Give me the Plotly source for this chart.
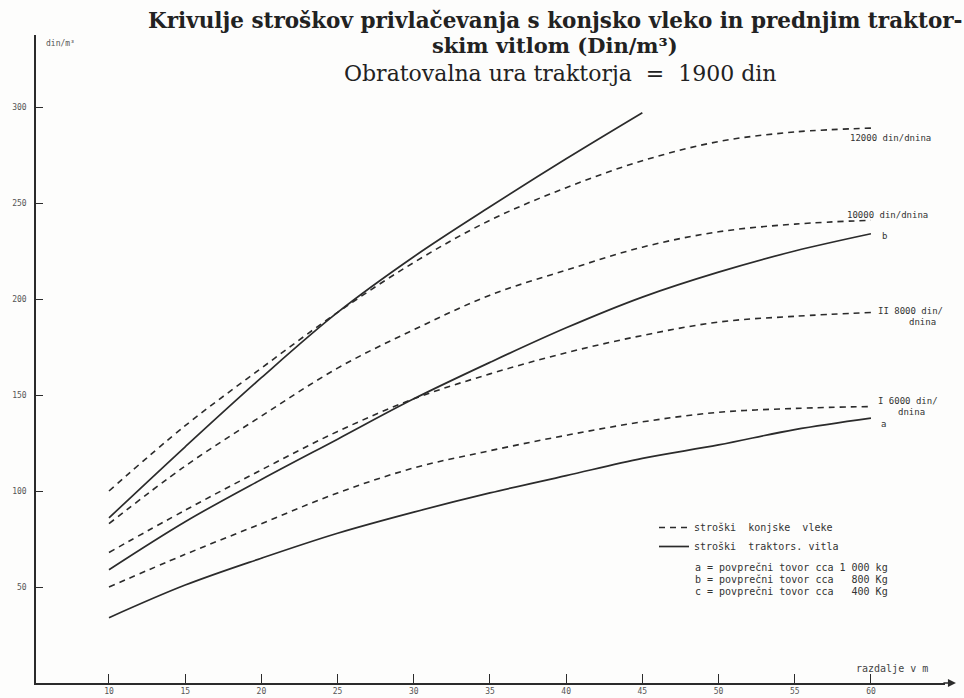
import plotly.graph_objects as go

# Skidding distance (m)
distance = [10, 15, 20, 25, 30, 35, 40, 45, 50, 55, 60]
distance_c = [10, 15, 20, 25, 30, 35, 40, 45]

# Horse skidding costs (din/m3) for different daily wages
horse_12000 = [100, 134, 164, 193, 219, 241, 258, 272, 282, 287, 289]
horse_10000 = [83, 113, 139, 164, 184, 202, 215, 227, 235, 239, 241]
horse_8000 = [68, 90, 111, 131, 148, 161, 172, 181, 188, 191, 193]
horse_6000 = [50, 67, 83, 99, 112, 121, 129, 136, 141, 143, 144]

# Tractor winch costs (din/m3) for average loads a, b, c
winch_a = [34, 51, 65, 78, 89, 99, 108, 117, 124, 132, 138]
winch_b = [59, 84, 106, 127, 148, 167, 185, 201, 214, 225, 234]
winch_c = [86, 123, 159, 193, 222, 248, 273, 297]

x_ticks = [10, 15, 20, 25, 30, 35, 40, 45, 50, 55, 60]
y_ticks = [50, 100, 150, 200, 250, 300]

INK = "#2b2b2b"
HAND = "DejaVu Sans Mono"

# plot-area geometry in pixels (used for placing free text)
L, R, T, B = 36, 945, 35, 683


def px(xp):
    return (xp - L) / (R - L)


def py(yp):
    return (B - yp) / (B - T)


fig = go.Figure()

horse = [horse_12000, horse_10000, horse_8000, horse_6000]
for i, ys in enumerate(horse):
    fig.add_trace(go.Scatter(
        x=distance, y=ys, mode="lines",
        line=dict(color=INK, width=1.6, dash="6px,5px", shape="spline"),
        name="stroški  konjske  vleke", showlegend=(i == 0),
        hoverinfo="skip"))

winch = [(distance_c, winch_c), (distance, winch_b), (distance, winch_a)]
for i, (xs, ys) in enumerate(winch):
    fig.add_trace(go.Scatter(
        x=xs, y=ys, mode="lines",
        line=dict(color=INK, width=1.7, shape="spline"),
        name="stroški  traktors. vitla", showlegend=(i == 0),
        hoverinfo="skip"))

ann = []

# titles
ann.append(dict(x=px(555), y=py(21), xref="paper", yref="paper",
                text="<b>Krivulje stroškov privlačevanja s konjsko vleko in prednjim traktor-</b>",
                showarrow=False, font=dict(family="DejaVu Serif", size=21.5, color="#222"),
                xanchor="center", yanchor="middle"))
ann.append(dict(x=px(555), y=py(46), xref="paper", yref="paper",
                text="<b>skim vitlom (Din/m³)</b>",
                showarrow=False, font=dict(family="DejaVu Serif", size=21, color="#222"),
                xanchor="center", yanchor="middle"))
ann.append(dict(x=px(560), y=py(73), xref="paper", yref="paper",
                text="Obratovalna ura traktorja  =  1900 din",
                showarrow=False, font=dict(family="DejaVu Serif", size=22, color="#222"),
                xanchor="center", yanchor="middle"))

# axis captions
ann.append(dict(x=px(44), y=py(43), xref="paper", yref="paper",
                text="din/m³", showarrow=False,
                font=dict(family=HAND, size=8, color="#555"),
                xanchor="left", yanchor="middle"))
ann.append(dict(x=px(892), y=py(668), xref="paper", yref="paper",
                text="razdalje v m", showarrow=False,
                font=dict(family=HAND, size=10, color="#444"),
                xanchor="center", yanchor="middle"))

# arrow at the end of the distance axis
ann.append(dict(x=1.012, y=0, xref="paper", yref="paper", text="",
                showarrow=True, arrowhead=2, arrowsize=1, arrowwidth=1.6,
                arrowcolor=INK, ax=-14, ay=0))

# curve labels
curve_labels = [
    (58.5, 284, "12000 din/dnina", "left"),
    (58.3, 244, "10000 din/dnina", "left"),
    (60.6, 233, "b", "left"),
    (60.3, 194, "II 8000 din/", "left"),
    (64.4, 188, "dnina", "right"),
    (60.3, 147, "I 6000 din/", "left"),
    (63.7, 141, "dnina", "right"),
    (60.5, 135, "a", "left"),
]
for lx, ly, txt, anchor in curve_labels:
    ann.append(dict(x=lx, y=ly, xref="x", yref="y", text=txt, showarrow=False,
                    font=dict(family=HAND, size=9, color="#333"),
                    xanchor=anchor, yanchor="middle"))

# load notes under the legend
notes = [
    (567, "a = povprečni tovor cca 1 000 kg"),
    (579, "b = povprečni tovor cca   800 Kg"),
    (591, "c = povprečni tovor cca   400 Kg"),
]
for ny, txt in notes:
    ann.append(dict(x=px(693), y=py(ny), xref="paper", yref="paper", text=txt,
                    showarrow=False, font=dict(family=HAND, size=10, color="#333"),
                    xanchor="left", yanchor="middle"))

fig.update_layout(
    width=964, height=698,
    margin=dict(l=L, r=964 - R, t=T, b=698 - B),
    paper_bgcolor="#fdfdfc", plot_bgcolor="#fdfdfc",
    annotations=ann,
    showlegend=True,
    legend=dict(x=px(654), y=py(513), xanchor="left", yanchor="top",
                bgcolor="rgba(0,0,0,0)", font=dict(family=HAND, size=10, color="#333"),
                tracegroupgap=0),
    xaxis=dict(range=[5.21, 64.86], tickvals=x_ticks, ticktext=[str(v) for v in x_ticks],
               ticks="inside", ticklen=9, tickwidth=1.2, tickcolor=INK, automargin=False,
               showline=True, linecolor=INK, linewidth=1.6, showgrid=False, zeroline=False,
               tickfont=dict(family=HAND, size=8, color="#555")),
    yaxis=dict(range=[0, 337.5], tickvals=y_ticks, ticktext=[str(v) for v in y_ticks],
               ticks="inside", ticklen=7, tickwidth=1.2, tickcolor=INK, automargin=False,
               ticklabelstandoff=6,
               showline=True, linecolor=INK, linewidth=1.6, showgrid=False, zeroline=False,
               tickfont=dict(family=HAND, size=8, color="#555")),
)

fig.write_html("out.html")
